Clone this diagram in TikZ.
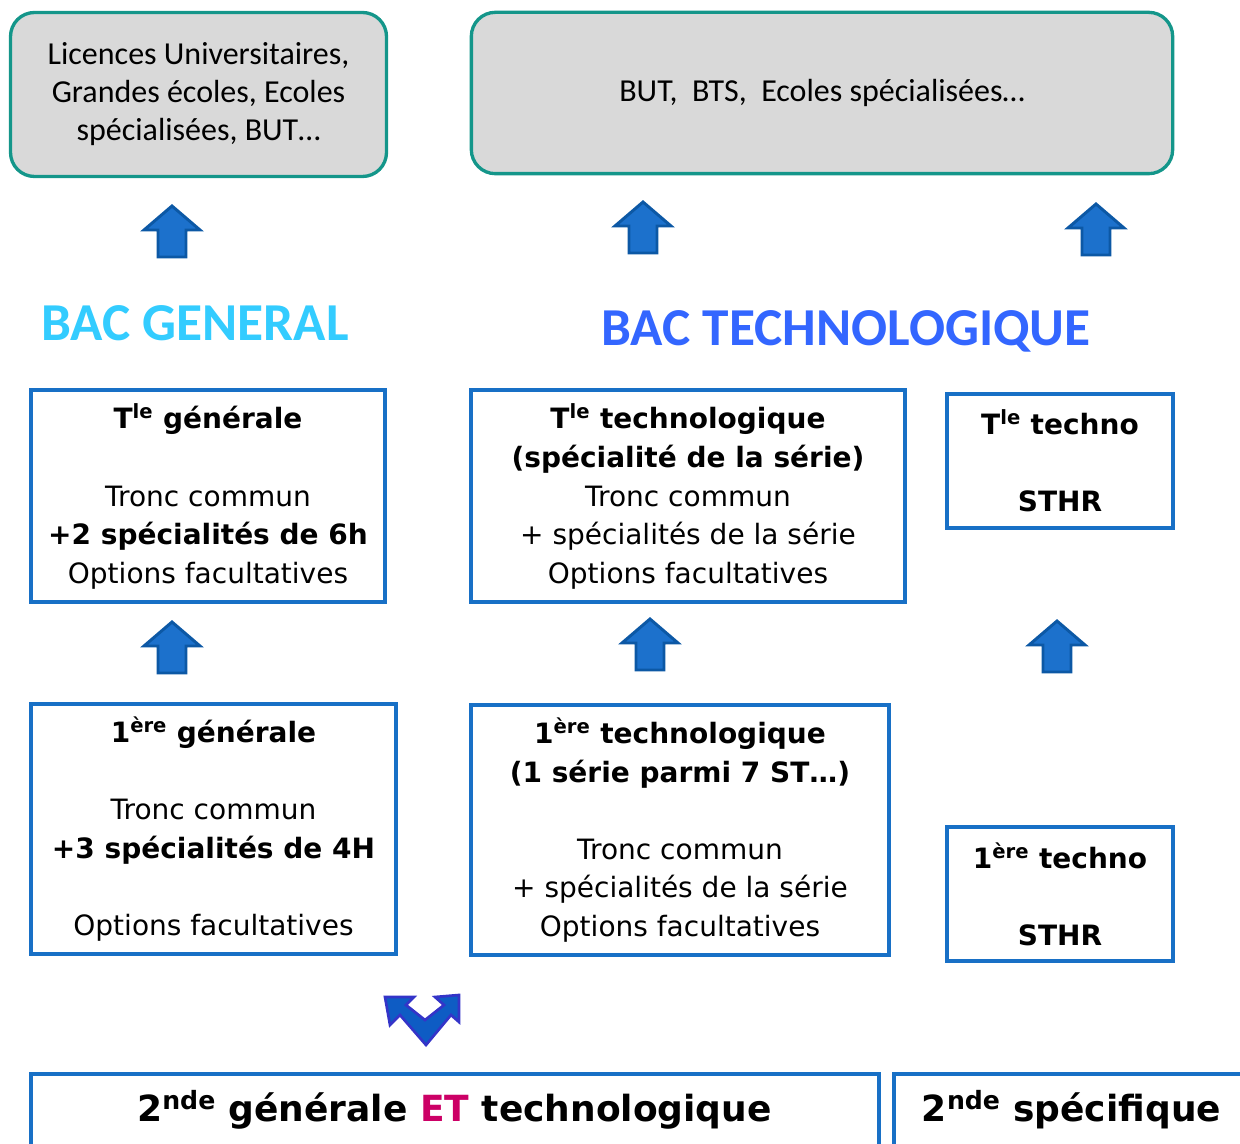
\documentclass[tikz,border=0pt]{standalone}
\usepackage{fontspec}
\setmainfont{Carlito}
\newfontfamily\comic{DejaVu Sans}
\usetikzlibrary{positioning, calc}
\definecolor{destGray}{RGB}{217,217,217}
\definecolor{destTeal}{RGB}{20,150,138}
\definecolor{boxBlue}{RGB}{24,112,198}
\definecolor{arrowBlue}{RGB}{28,113,204}
\definecolor{arrowEdge}{RGB}{12,88,165}
\definecolor{chevBlue}{RGB}{14,92,196}
\definecolor{chevEdge}{RGB}{52,52,200}
\definecolor{bacGen}{RGB}{51,204,255}
\definecolor{bacTech}{RGB}{51,102,255}
\definecolor{etPink}{RGB}{204,0,102}

\begin{document}
\begin{tikzpicture}[
    x=0.75pt, y=-0.75pt,
    dest/.style={rectangle, rounded corners=18pt, draw=destTeal, line width=2.5pt, fill=destGray, align=center, font=\fontsize{24}{28.5}\selectfont},
    classe/.style={rectangle, draw=boxBlue, line width=3pt, fill=white, align=center, font=\comic\fontsize{21}{28.9}\selectfont},
    seconde/.style={rectangle, draw=boxBlue, line width=3pt, fill=white, align=center, font=\comic\bfseries\fontsize{27}{30}\selectfont},
    bactitle/.style={font=\bfseries\fontsize{40}{44}\selectfont},
    uparrow/.pic={\draw[arrowEdge, fill=arrowBlue, line width=2.2pt, line join=miter]
        (-14,0) -- (-14,-27) -- (-28,-27) -- (0,-51) -- (28,-27) -- (14,-27) -- (14,0) -- cycle;},
    chevron/.pic={\draw[chevEdge, fill=chevBlue, line width=2pt, line join=miter]
        (385,997) -- (414,997) -- (406,1005) -- (425,1020) -- (444,1005) -- (435,997) -- (459,995)
        -- (459,1022) -- (451,1015) -- (426,1045) -- (400,1015) -- (390,1025) -- cycle;}
]
\clip (0,0) rectangle (1240,1144);

% Destinations
\node[dest, minimum width=282pt, minimum height=123pt] (poursuiteG) at (198.5,94.5)
    {Licences Universitaires,\\ Grandes écoles, Ecoles\\ spécialisées, BUT…};
\node[dest, minimum width=526pt, minimum height=121pt] (poursuiteT) at (822,93)
    {BUT,\ \ BTS,\ \ Ecoles spécialisées…};

% Bac titles
\node[bactitle, text=bacGen] (bacG) at (195,323) {BAC GENERAL};
\node[bactitle, text=bacTech] (bacT) at (846,331) {BAC TECHNOLOGIQUE};

% Terminales
\node[classe, minimum width=266pt, minimum height=159pt] (tleG) at (208,496.5)
    {\textbf{T\textsuperscript{le} générale}\\[28.9pt] Tronc commun\\ \textbf{+2 spécialités de 6h}\\ Options facultatives};
\node[classe, minimum width=325pt, minimum height=159pt] (tleT) at (688,496.5)
    {\textbf{T\textsuperscript{le} technologique}\\ \textbf{(spécialité de la série)}\\ Tronc commun\\ + spécialités de la série\\ Options facultatives};
\node[classe, minimum width=169pt, minimum height=101pt] (tleS) at (1060,461)
    {\textbf{T\textsuperscript{le} techno}\\[28.9pt] \textbf{STHR}};

% Premieres
\node[classe, minimum width=274pt, minimum height=188pt] (preG) at (213.5,829)
    {\textbf{1\textsuperscript{ère} générale}\\[28.9pt] Tronc commun\\ \textbf{+3 spécialités de 4H}\\[28.9pt] Options facultatives};
\node[classe, minimum width=313pt, minimum height=188pt] (preT) at (680,830)
    {\textbf{1\textsuperscript{ère} technologique}\\ \textbf{(1 série parmi 7 ST…)}\\[28.9pt] Tronc commun\\ + spécialités de la série\\ Options facultatives};
\node[classe, minimum width=169pt, minimum height=101pt] (preS) at (1060,894)
    {\textbf{1\textsuperscript{ère} techno}\\[28.9pt] \textbf{STHR}};

% Secondes
\node[seconde, minimum width=636pt, minimum height=54pt] (sndGT) at (454.5,1110)
    {2\textsuperscript{nde} générale \textcolor{etPink}{ET} technologique};
\node[seconde, minimum width=266pt, minimum height=54pt] (sndS) at (1071.5,1110)
    {2\textsuperscript{nde} spécifique};

% Arrows
\pic at (172,257) {uparrow};
\pic at (643,253) {uparrow};
\pic at (1096,255) {uparrow};
\pic at (172,673) {uparrow};
\pic at (650,670) {uparrow};
\pic at (1057,672) {uparrow};
\pic at (0,0) {chevron};

\end{tikzpicture}
\end{document}
